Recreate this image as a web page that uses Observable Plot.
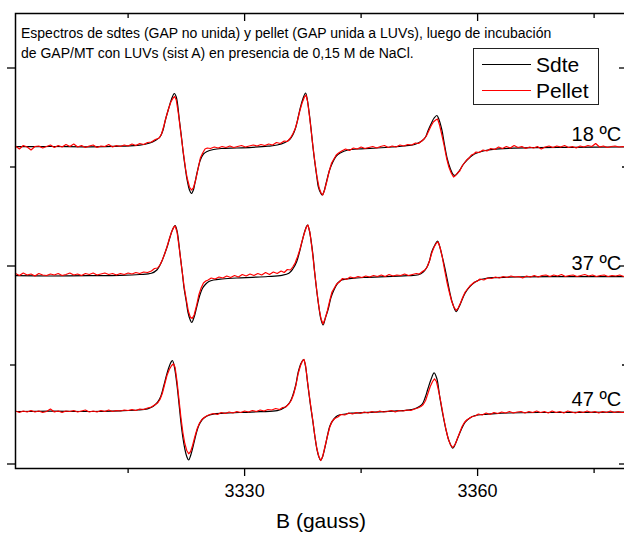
<!DOCTYPE html>
<html><head><meta charset="utf-8">
<script src="https://cdn.jsdelivr.net/npm/d3@7"></script>
<script src="https://cdn.jsdelivr.net/npm/@observablehq/plot@0.6"></script>
<style>
html,body{margin:0;padding:0;background:#fff;overflow:hidden;}
#wrap{position:relative;width:624px;height:533px;overflow:hidden;font-family:"Liberation Sans",Arial,sans-serif;color:#000;}
#chart{position:absolute;left:0;top:0;width:640px;}
#chart svg{max-width:none !important;}
#title{position:absolute;left:21px;top:23px;font-size:14px;line-height:20px;white-space:nowrap;}
#legend{position:absolute;left:473px;top:48px;width:126px;height:57px;box-sizing:border-box;border:1px solid #222;background:#fff;}
.lg-line{position:absolute;left:8px;width:49px;height:0;}
.lg-text{position:absolute;left:62px;font-size:21px;line-height:21px;white-space:nowrap;}
#xlabel{position:absolute;left:0;width:642px;text-align:center;top:510px;font-size:21px;line-height:21px;}
</style>
</head><body>
<div id="wrap">
  <div id="chart"></div>
  <div id="title">Espectros de sdtes (GAP no unida) y pellet (GAP unida a LUVs), luego de incubación<br>de GAP/MT con LUVs (sist A) en presencia de 0,15 M de NaCl.</div>
  <div id="legend">
    <div class="lg-line" style="top:15px;border-top:1px solid #000;"></div>
    <div class="lg-text" style="top:5px;">Sdte</div>
    <div class="lg-line" style="top:41px;border-top:1px solid #ff0000;"></div>
    <div class="lg-text" style="top:31px;">Pellet</div>
  </div>
  <div id="xlabel">B (gauss)</div>
</div>
<script>
// ---- data ----
const temps = ["18 ºC", "37 ºC", "47 ºC"];
const baselines = [317, 188, 52.5];           // vertical offset of each stacked spectrum (a.u.)
const xMajor = [3330, 3360];
const xMinor = [3315, 3345, 3375];
const yMajor = [0, 198, 396];
const yMinor = [99, 297];
const xDomain = [3300.5, 3379.3];
const yDomain = [-4.5, 450.5];

// [B (gauss), signal relative to the spectrum baseline]
const sdte18 = [[3300.5,0.3],[3305,0.5],[3310,0.2],[3314,0.8],[3316.5,1.8],[3317.8,4],[3318.5,6.5],[3319.1,10],[3319.5,17],[3319.8,27],[3320.2,38],[3320.6,48],[3320.95,53.5],[3321.2,50],[3321.6,27],[3321.9,8],[3322.1,-6],[3322.4,-23],[3322.6,-33],[3322.9,-43],[3323.15,-46.5],[3323.4,-43],[3323.6,-36],[3323.9,-25],[3324.3,-13],[3324.7,-7],[3325.1,-4.7],[3326,-2.5],[3327,-1.5],[3329,-1],[3331,-0.3],[3333,0.8],[3334.2,2],[3335.2,4.5],[3335.8,7.5],[3336.2,12],[3336.6,20],[3336.9,30],[3337.2,40],[3337.5,48],[3337.85,54],[3338.1,46],[3338.5,22],[3338.8,0],[3339,-13],[3339.3,-30],[3339.5,-40],[3339.8,-46],[3340,-48],[3340.2,-45],[3340.5,-36],[3340.9,-24],[3341.3,-16],[3341.8,-9],[3342.3,-6],[3343.3,-3],[3345,-1.8],[3347,-1],[3349,0],[3350.5,1],[3351.9,2.5],[3352.9,6.5],[3353.3,10],[3353.6,16],[3354,23],[3354.4,29],[3354.75,31.5],[3355,28],[3355.4,17],[3355.7,4],[3356.1,-12],[3356.5,-22],[3356.9,-28],[3357.2,-28],[3357.7,-23],[3358.2,-17],[3358.7,-12.5],[3359.3,-8.5],[3359.9,-6],[3361,-3.5],[3362,-2.3],[3364,-1.3],[3367,-0.6],[3372,-0.3],[3379.3,0]];

const pellet18 = [[3300.5,1],[3301,-2],[3301.5,1.5],[3302,0],[3302.5,-3],[3303,0.5],[3303.5,1],[3304,-1],[3304.5,0.5],[3305,2],[3305.5,-0.5],[3306,1.5],[3306.5,0],[3307,2.5],[3307.5,0.5],[3308,3],[3308.5,0],[3309,1.5],[3309.5,-0.5],[3310,1],[3310.5,2],[3311,-0.5],[3311.5,1],[3312,0.5],[3312.5,2.5],[3313,0],[3313.5,1.5],[3314,0.5],[3314.5,2],[3315,1],[3315.5,3],[3316,1.5],[3316.5,3.5],[3317,2.5],[3317.5,4.5],[3318,5],[3318.5,7.5],[3319,9],
[3319.3,13],[3319.6,21],[3319.9,30],[3320.2,38],[3320.5,45],[3320.8,49],[3321,50.5],[3321.2,47],[3321.5,32],[3321.8,13],[3322.1,-5],[3322.4,-22],[3322.6,-31],[3322.9,-40],[3323.15,-43],[3323.4,-41],[3323.7,-33],[3324,-22],[3324.3,-11],[3324.6,-6],[3324.9,-2],[3325.2,-1],
[3325.6,-1.5],[3326.1,0],[3326.6,-1],[3327.1,0.5],[3327.6,-0.5],[3328.1,1],[3328.6,-0.5],[3329.1,0.5],[3329.6,1.5],[3330.1,0],[3330.6,1],[3331.1,2],[3331.6,1],[3332.1,2.5],[3332.6,1.5],[3333.1,3],[3333.6,2],[3334.1,4.5],[3334.6,3.5],[3335.1,6],[3335.5,5.5],[3335.9,9],
[3336.2,13],[3336.5,18],[3336.8,26],[3337.1,36],[3337.4,44],[3337.7,50],[3337.9,52],[3338.1,46],[3338.4,28],[3338.7,7],[3339,-12],[3339.3,-29],[3339.6,-41],[3339.85,-46],[3340.05,-48],[3340.3,-43],[3340.6,-34],[3340.9,-24],[3341.2,-16],[3341.5,-12],[3341.8,-8],[3342.1,-6],
[3342.5,-4],[3343,-2],[3343.5,-3.5],[3344,-1],[3344.5,-2],[3345,0],[3345.5,-1.5],[3346,-0.5],[3346.5,0.5],[3347,-1],[3347.5,0.5],[3348,1.5],[3348.5,-0.5],[3349,1],[3349.5,0],[3350,2],[3350.5,1],[3351,2.5],[3351.5,2],[3352,4],[3352.4,3.5],[3352.8,6],
[3353.1,8],[3353.4,11],[3353.7,16],[3354,21],[3354.3,25],[3354.6,27],[3354.85,28],[3355.1,22],[3355.4,12],[3355.7,1],[3356,-11],[3356.3,-20],[3356.6,-26],[3356.9,-30],[3357.1,-29],[3357.4,-26],[3357.7,-24],[3358,-19],[3358.3,-16],[3358.6,-13],[3358.9,-11],[3359.2,-8],[3359.5,-7],[3359.8,-5],
[3360.2,-5.5],[3360.7,-3],[3361.2,-4],[3361.7,-1.5],[3362.2,-2.5],[3362.7,0],[3363.2,-1.5],[3363.7,0.5],[3364.2,-1],[3364.7,1.5],[3365.2,-0.5],[3365.7,0.5],[3366.2,-1.5],[3366.7,0],[3367.2,-1],[3367.7,0.5],[3368.2,-2],[3368.7,0],[3369.2,1],[3369.7,-0.5],[3370.2,1],[3370.7,0],[3371.2,1.5],[3371.7,-0.5],[3372.2,0.5],[3372.7,-1],[3373.2,1],[3373.7,0],[3374.2,1.5],[3374.7,0.5],[3375.2,3.5],[3375.7,0],[3376.2,1],[3376.7,-0.5],[3377.2,0.5],[3377.7,1],[3378.2,0],[3378.7,0.5],[3379.3,-0.5]];

const sdte37 = [[3300.5,0.3],[3305,0],[3310,0.3],[3314,0.7],[3316.5,1.5],[3318,2.7],[3318.7,6],[3319.3,14],[3319.7,22],[3320.1,31],[3320.4,39],[3320.7,46],[3321.05,50.5],[3321.3,45],[3321.7,21],[3322,2],[3322.2,-12],[3322.5,-26],[3322.7,-36],[3323,-44],[3323.2,-46.5],[3323.5,-41],[3323.8,-32],[3324.2,-20],[3324.6,-12],[3325,-8],[3325.4,-5.5],[3326,-4],[3327.1,-3],[3329,-2],[3331,-1.3],[3333,-0.5],[3334.8,0.7],[3335.7,2.7],[3336.2,7],[3336.7,14.3],[3337.1,25],[3337.5,37.7],[3337.8,46],[3338.1,51],[3338.35,45],[3338.8,21],[3339,5],[3339.3,-15.7],[3339.6,-33],[3339.8,-42.3],[3340.1,-49],[3340.4,-42],[3340.8,-32],[3341.1,-22],[3341.5,-14],[3342,-7],[3342.5,-4],[3343.8,-2.3],[3346,-1.3],[3349,-0.3],[3351,0.3],[3352.4,1.2],[3353,4],[3353.4,7.7],[3353.8,15],[3354.1,24.3],[3354.5,31],[3354.85,35],[3355.1,30],[3355.6,14.3],[3356,0],[3356.4,-15.7],[3356.8,-28],[3357.25,-35.7],[3357.6,-31],[3357.9,-25.7],[3358.4,-17],[3359,-10.7],[3359.6,-6.5],[3360.2,-4],[3361,-2.5],[3362,-1.7],[3365,-1],[3370,-0.7],[3379.3,-0.7]];

const pellet37 = [[3300.5,2.5],[3301,0.5],[3301.5,3],[3302,1],[3302.5,2],[3303,0],[3303.5,2.5],[3304,1],[3304.5,0.5],[3305,2],[3305.5,1],[3306,2.5],[3306.5,0.5],[3307,1.5],[3307.5,3],[3308,1],[3308.5,2],[3309,0.5],[3309.5,2.5],[3310,1.5],[3310.5,3],[3311,1],[3311.5,2],[3312,3],[3312.5,1.5],[3313,2.5],[3313.5,1],[3314,2.5],[3314.5,1.5],[3315,3],[3315.5,2],[3316,3.5],[3316.5,2.5],[3317,4],[3317.5,3.5],[3318,5],[3318.4,7.5],[3318.8,8],
[3319.1,11],[3319.4,16],[3319.7,22],[3320,29],[3320.3,37],[3320.6,44],[3320.85,48.5],[3321.05,50],[3321.3,44],[3321.6,27],[3321.9,8],[3322.2,-10],[3322.5,-24],[3322.75,-35],[3323,-41],[3323.25,-42.5],[3323.5,-39],[3323.8,-30],[3324.1,-19],[3324.4,-12],[3324.7,-7],[3325,-5],[3325.3,-4],
[3325.7,-2],[3326.2,-3],[3326.7,-1],[3327.2,-2],[3327.7,0],[3328.2,-1.5],[3328.7,0.5],[3329.2,-1],[3329.7,1.5],[3330.2,0],[3330.7,2],[3331.2,0.5],[3331.7,2.5],[3332.2,1],[3332.7,3.5],[3333.2,1.5],[3333.7,4],[3334.2,2.5],[3334.7,5],[3335.1,3.5],[3335.5,6.5],[3335.9,6],
[3336.2,9],[3336.5,13],[3336.8,19],[3337.1,26],[3337.4,35],[3337.7,43],[3337.95,49],[3338.15,51],[3338.4,44],[3338.7,26],[3339,5],[3339.3,-15],[3339.6,-33],[3339.85,-43],[3340.1,-48],[3340.35,-43],[3340.65,-35],[3340.95,-25],[3341.25,-16],[3341.55,-12],[3341.85,-8],[3342.2,-6],
[3342.6,-2.5],[3343.1,-3.5],[3343.6,-1],[3344.1,-2],[3344.6,-0.5],[3345.1,-1.5],[3345.6,0],[3346.1,-1],[3346.6,0.5],[3347.1,-0.5],[3347.6,1],[3348.1,-0.5],[3348.6,1.5],[3349.1,0],[3349.6,1],[3350.1,0.5],[3350.6,2],[3351.1,0.5],[3351.6,1.5],[3352.1,2.5],[3352.5,2],[3352.9,4.5],
[3353.2,6],[3353.5,9],[3353.8,15],[3354.1,23],[3354.4,29],[3354.7,33],[3354.9,34],[3355.15,29],[3355.45,19],[3355.75,6],[3356.05,-6],[3356.35,-16],[3356.65,-25],[3356.95,-31],[3357.25,-34.5],[3357.5,-32],[3357.8,-27],[3358.1,-21],[3358.4,-16],[3358.7,-13],[3359,-10],[3359.3,-8],[3359.6,-6],[3359.9,-5.5],
[3360.3,-3],[3360.8,-4],[3361.3,-2],[3361.8,-2.5],[3362.3,-1],[3362.8,-2],[3363.3,-0.5],[3363.8,-1.5],[3364.3,0],[3364.8,-1],[3365.3,-0.5],[3365.8,-2],[3366.3,0],[3366.8,-1],[3367.3,0.5],[3367.8,-1],[3368.3,0.5],[3368.8,1],[3369.3,-0.5],[3369.8,1],[3370.3,0],[3370.8,1.5],[3371.3,-0.5],[3371.8,0.5],[3372.3,1],[3372.8,-0.5],[3373.3,0.5],[3373.8,1.5],[3374.3,0],[3374.8,1],[3375.3,-0.5],[3375.8,0.5],[3376.3,1],[3376.8,-0.5],[3377.3,0.5],[3377.8,0],[3378.3,1],[3378.8,-0.5],[3379.3,0]];

const sdte47 = [[3300.5,0],[3305,0.3],[3310,0],[3314,0.7],[3316.3,1.5],[3317.5,2.7],[3318.2,5],[3318.8,9.3],[3319.2,15],[3319.6,26],[3319.9,35],[3320.2,43],[3320.5,49],[3320.7,51],[3320.95,45],[3321.3,26],[3321.55,8],[3321.8,-10.7],[3322.05,-26],[3322.3,-37.3],[3322.55,-45],[3322.8,-48.5],[3323.05,-44],[3323.5,-30.7],[3323.8,-21],[3324.1,-14],[3324.5,-8.5],[3324.9,-5.7],[3325.5,-3.5],[3326.1,-2.3],[3328,-1.5],[3330,-0.8],[3332,-0.2],[3334.2,0.8],[3335.2,4.3],[3335.8,9],[3336.2,16],[3336.6,27],[3336.9,39.3],[3337.25,48],[3337.6,52],[3337.85,45],[3338.1,29.3],[3338.45,8],[3338.8,-10.7],[3339.05,-25],[3339.3,-37.3],[3339.55,-45],[3339.8,-49],[3340.05,-45],[3340.4,-34],[3340.7,-23],[3341,-14],[3341.5,-7.5],[3342,-4],[3343,-2.5],[3343.8,-1.7],[3346,-0.8],[3349,0.3],[3351,1.3],[3351.9,2.7],[3352.5,5],[3352.9,7.7],[3353.25,14],[3353.6,22.7],[3354,32],[3354.4,38.7],[3354.75,33],[3355.1,16],[3355.5,-2],[3355.9,-17.3],[3356.3,-29],[3356.8,-36.7],[3357.1,-33],[3357.4,-27.3],[3357.9,-18],[3358.4,-10.7],[3359,-6.5],[3359.7,-4],[3361,-2.8],[3361.9,-2.3],[3364,-1.5],[3368,-1],[3379.3,-0.7]];

const pellet47 = [[3300.5,0.5],[3301,-1],[3301.5,0.5],[3302,-0.5],[3302.5,1],[3303,-0.5],[3303.5,0.5],[3304,-1],[3304.5,0],[3305,2.5],[3305.5,-0.5],[3306,0.5],[3306.5,-1],[3307,0.5],[3307.5,0],[3308,1],[3308.5,-0.5],[3309,0.5],[3309.5,1.5],[3310,-0.5],[3310.5,0.5],[3311,-0.5],[3311.5,1],[3312,0],[3312.5,1.5],[3313,0],[3313.5,1],[3314,0.5],[3314.5,1.5],[3315,1],[3315.5,2],[3316,1],[3316.5,2.5],[3317,2],[3317.5,3.5],[3318,4.5],[3318.4,6.5],[3318.8,8.5],
[3319.1,12],[3319.4,18],[3319.7,27],[3320,36],[3320.3,42],[3320.6,46],[3320.85,47.7],[3321.05,44],[3321.3,30],[3321.55,12],[3321.8,-6],[3322.05,-21],[3322.3,-32],[3322.55,-39],[3322.8,-42.3],[3323.05,-40],[3323.3,-34],[3323.6,-25],[3323.9,-17],[3324.2,-11.5],[3324.5,-8],[3324.8,-6],[3325.1,-4.5],
[3325.5,-3],[3326,-2],[3326.5,-3],[3327,-1],[3327.5,-2],[3328,-0.5],[3328.5,-1.5],[3329,0],[3329.5,-1],[3330,0.5],[3330.5,-0.5],[3331,1],[3331.5,0],[3332,1.5],[3332.5,0.5],[3333,2],[3333.5,1.5],[3334,3],[3334.5,2],[3334.9,4],[3335.3,4.5],[3335.7,7.5],
[3336,11],[3336.3,17],[3336.6,26],[3336.9,38],[3337.2,46],[3337.45,50.5],[3337.65,52],[3337.85,46],[3338.1,30],[3338.45,9],[3338.8,-10],[3339.05,-25],[3339.3,-37],[3339.55,-45],[3339.8,-49],[3340.05,-45],[3340.35,-35],[3340.65,-25],[3340.95,-16],[3341.25,-10],[3341.6,-7],[3342,-5.5],
[3342.4,-3],[3342.9,-3.5],[3343.4,-1.5],[3343.9,-2.5],[3344.4,-1],[3344.9,-2],[3345.4,-0.5],[3345.9,-1.5],[3346.4,0],[3346.9,-1],[3347.4,0.5],[3347.9,-0.5],[3348.4,0],[3348.9,1],[3349.4,-0.5],[3349.9,1],[3350.4,0.5],[3350.9,1.5],[3351.4,1],[3351.9,2.5],[3352.3,3.5],[3352.7,5],
[3353,7],[3353.3,11],[3353.6,18],[3353.9,25],[3354.2,30],[3354.45,32.7],[3354.7,30],[3355,20],[3355.3,8],[3355.6,-5],[3355.9,-17],[3356.2,-27],[3356.5,-33],[3356.8,-36],[3357.1,-33],[3357.4,-27],[3357.7,-21],[3358,-15],[3358.3,-11],[3358.6,-8.5],[3358.9,-7],[3359.3,-5],[3359.7,-4.5],
[3360.1,-2.5],[3360.6,-3.5],[3361.1,-1.5],[3361.6,-3],[3362.1,-1],[3362.6,-2],[3363.1,-0.5],[3363.6,-1.5],[3364.1,0],[3364.6,-1.5],[3365.1,-0.5],[3365.6,0],[3366.1,-1.5],[3366.6,0],[3367.1,-1],[3367.6,0.5],[3368.1,-1],[3368.6,0],[3369.1,-1.5],[3369.6,0.5],[3370.1,-1],[3370.6,0],[3371.1,-1.5],[3371.6,0.5],[3372.1,-0.5],[3372.6,-1.5],[3373.1,0],[3373.6,-1],[3374.1,0.5],[3374.6,-1],[3375.1,0],[3375.6,-1.5],[3376.1,0],[3376.6,-1],[3377.1,0.5],[3377.6,-1],[3378.1,0],[3378.6,-1],[3379.3,-0.5]];

// ---- build tables ----
const sdteSets = [sdte18, sdte37, sdte47];
const pelletSets = [pellet18, pellet37, pellet47];
const toRows = sets => sets.flatMap((s, i) => s.map(([B, a]) => ({B, y: baselines[i] + a, temp: temps[i]})));
const black = toRows(sdteSets);
const red = toRows(pelletSets);
const labelRows = temps.map((t, i) => ({t, base: baselines[i]}));

const W = 640, H = 533, mL = 15, mR = 13, mT = 13, mB = 65;
const pxPerX = (W - mL - mR) / (xDomain[1] - xDomain[0]);
const pxPerY = (H - mT - mB) / (yDomain[1] - yDomain[0]);

const chart = Plot.plot({
  width: W, height: H,
  marginLeft: mL, marginRight: mR, marginTop: mT, marginBottom: mB,
  x: {domain: xDomain},
  y: {domain: yDomain},
  style: {fontFamily: "Liberation Sans, Arial, sans-serif", background: "white", color: "black", overflow: "visible", maxWidth: "none"},
  marks: [
    Plot.line(black, {x: "B", y: "y", z: "temp", stroke: "#000", strokeWidth: 1.2, curve: "catmull-rom"}),
    Plot.line(red, {x: "B", y: "y", z: "temp", stroke: "#ff0000", strokeWidth: 1.2}),
    Plot.text(labelRows, {x: () => 3372.1, y: d => d.base + 6, text: "t", textAnchor: "start", lineAnchor: "bottom", fontSize: 20, fill: "#000"}),
    Plot.frame({stroke: "#000", strokeWidth: 1.5}),
    Plot.axisX({ticks: xMajor, tickSize: 8, tickPadding: 8, fontSize: 18, tickFormat: "d", label: null, strokeWidth: 1.3}),
    Plot.axisX({ticks: xMinor, tickSize: 5, tickFormat: () => "", label: null, strokeWidth: 1.3}),
    Plot.axisY({ticks: yMajor, tickSize: 8, tickFormat: () => "", label: null, strokeWidth: 1.3}),
    Plot.axisY({ticks: yMinor, tickSize: 5, tickFormat: () => "", label: null, strokeWidth: 1.3}),
    Plot.ruleX(xMajor, {y1: yDomain[1], y2: yDomain[1] - 8 / pxPerY, strokeWidth: 1.3}),
    Plot.ruleX(xMinor, {y1: yDomain[1], y2: yDomain[1] - 5 / pxPerY, strokeWidth: 1.3}),
    Plot.ruleY(yMajor, {x1: xDomain[1], x2: xDomain[1] - 8 / pxPerX, strokeWidth: 1.3}),
    Plot.ruleY(yMinor, {x1: xDomain[1], x2: xDomain[1] - 5 / pxPerX, strokeWidth: 1.3})
  ]
});
chart.style.maxWidth = "none";
document.getElementById("chart").appendChild(chart);
</script>
</body></html>
